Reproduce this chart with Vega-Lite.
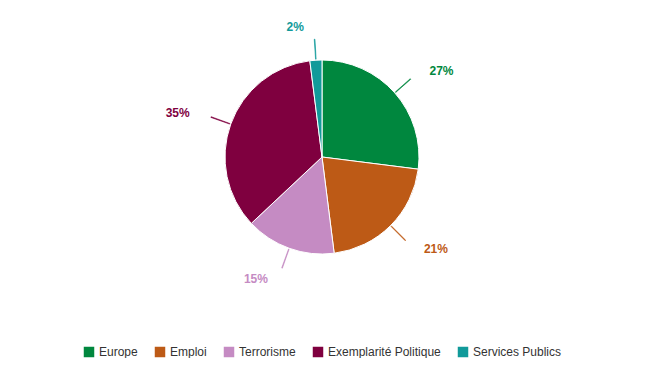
{
  "$schema": "https://vega.github.io/schema/vega-lite/v6.json",
  "width": 644,
  "height": 314,
  "autosize": {"type": "pad"},
  "padding": 0,
  "background": "white",
  "config": {
    "view": {"stroke": null},
    "font": "Liberation Sans",
    "legend": {"layout": {"bottom": {"anchor": "middle"}}}
  },
  "data": {
    "values": [
      {"sujet": "Europe", "value": 27, "ordre": 1},
      {"sujet": "Emploi", "value": 21, "ordre": 2},
      {"sujet": "Terrorisme", "value": 15, "ordre": 3},
      {"sujet": "Exemplarité Politique", "value": 35, "ordre": 4},
      {"sujet": "Services Publics", "value": 2, "ordre": 5}
    ]
  },
  "encoding": {
    "color": {
      "field": "sujet",
      "type": "nominal",
      "scale": {
        "domain": ["Europe", "Emploi", "Terrorisme", "Exemplarité Politique", "Services Publics"],
        "range": ["#00873e", "#bd5a16", "#c58bc3", "#7f003f", "#119a9a"]
      },
      "legend": {
        "orient": "bottom",
        "direction": "horizontal",
        "title": null,
        "symbolType": "square",
        "symbolSize": 110,
        "symbolStrokeWidth": 0,
        "labelFontSize": 12,
        "labelColor": "#333333",
        "labelFont": "Liberation Sans",
        "labelOffset": 4,
        "columnPadding": 16,
        "offset": 32
      }
    }
  },
  "layer": [
    {
      "mark": {"type": "arc", "outerRadius": 97, "stroke": "white", "strokeWidth": 1},
      "encoding": {
        "theta": {"field": "value", "type": "quantitative", "stack": true, "scale": {"domain": [0, 100]}},
        "order": {"field": "ordre", "type": "quantitative"}
      }
    },
    {
      "transform": [
        {"stack": "value", "sort": [{"field": "ordre"}], "groupby": [], "as": ["s0", "s1"]},
        {"calculate": "(datum.s0 + datum.s1) / 2 - 0.05", "as": "a0"},
        {"calculate": "(datum.s0 + datum.s1) / 2 + 0.05", "as": "a1"}
      ],
      "mark": {"type": "arc", "radius": 118, "radius2": 98, "strokeWidth": 0.6},
      "encoding": {
        "theta": {"field": "a0", "type": "quantitative", "scale": {"domain": [0, 100]}},
        "theta2": {"field": "a1"},
        "stroke": {"field": "sujet", "type": "nominal", "legend": null, "scale": {
          "domain": ["Europe", "Emploi", "Terrorisme", "Exemplarité Politique", "Services Publics"],
          "range": ["#00873e", "#bd5a16", "#c58bc3", "#7f003f", "#119a9a"]}}
      }
    },
    {
      "transform": [
        {"calculate": "datum.value + '%'", "as": "label"}
      ],
      "mark": {"type": "text", "radius": 130, "dx": 10, "align": "left", "fontSize": 12, "fontWeight": "bold", "font": "Liberation Sans"},
      "encoding": {
        "theta": {"field": "value", "type": "quantitative", "stack": true, "scale": {"domain": [0, 100]}},
        "order": {"field": "ordre", "type": "quantitative"},
        "text": {"field": "label", "type": "nominal"},
        "opacity": {"condition": {"test": "datum.ordre <= 2", "value": 1}, "value": 0}
      }
    },
    {
      "transform": [
        {"calculate": "datum.value + '%'", "as": "label"}
      ],
      "mark": {"type": "text", "radius": 130, "dx": -10, "align": "right", "fontSize": 12, "fontWeight": "bold", "font": "Liberation Sans"},
      "encoding": {
        "theta": {"field": "value", "type": "quantitative", "stack": true, "scale": {"domain": [0, 100]}},
        "order": {"field": "ordre", "type": "quantitative"},
        "text": {"field": "label", "type": "nominal"},
        "opacity": {"condition": {"test": "datum.ordre > 2", "value": 1}, "value": 0}
      }
    }
  ]
}
